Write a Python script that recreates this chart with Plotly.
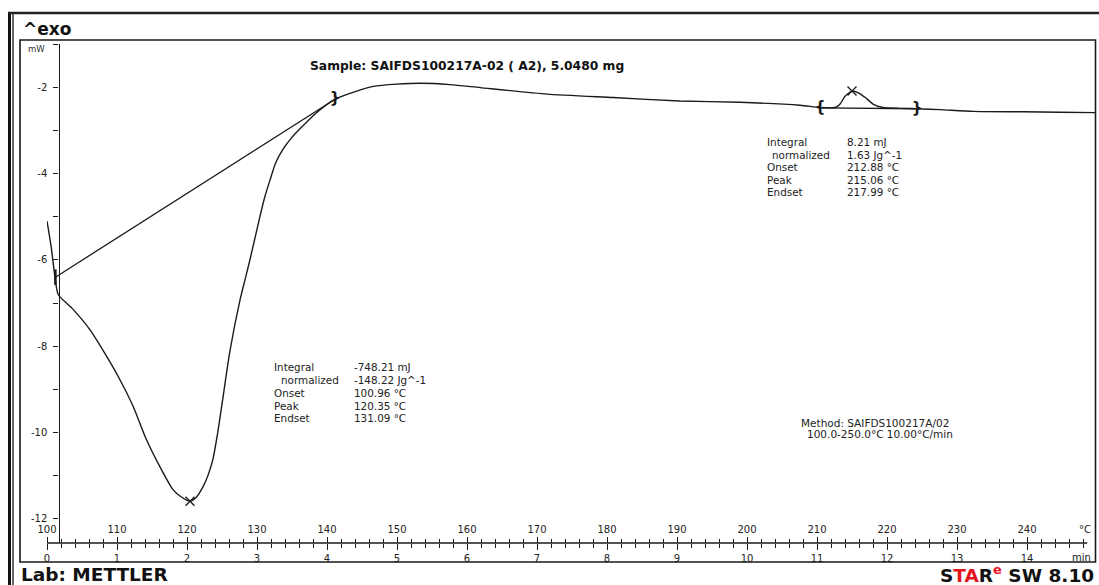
import plotly.graph_objects as go

# ---------------- data ----------------
temp_c = [100.0, 100.6, 101.1, 101.6, 103.7, 106.1, 108.5, 110.4, 112.3, 114.2,
          116.1, 118.0, 119.1, 120.4, 121.3, 122.3, 123.0, 123.7, 124.4, 125.1,
          126.1, 127.6, 128.3, 129.0, 130.4, 131.1, 131.9, 132.7, 133.7, 134.9,
          136.1, 138.5, 141.1, 143.7, 146.6, 150.0, 153.3, 157.6, 161.9, 171.4,
          180.9, 190.4, 199.0, 207.6, 210.4, 212.6, 213.3, 214.0, 215.0, 215.9,
          216.9, 218.0, 219.4, 221.9, 224.3, 227.6, 232.3, 239.4, 244.7, 249.7]
heat_flow_mw = [-5.10, -5.70, -6.35, -6.80, -7.14, -7.61, -8.23, -8.77, -9.39, -10.16,
                -10.78, -11.32, -11.48, -11.59, -11.50, -11.25, -10.99, -10.62, -9.99, -9.23,
                -8.14, -6.91, -6.45, -5.99, -5.01, -4.55, -4.13, -3.74, -3.44, -3.18,
                -2.97, -2.59, -2.28, -2.12, -1.98, -1.93, -1.91, -1.94, -2.01, -2.16,
                -2.24, -2.32, -2.35, -2.42, -2.47, -2.47, -2.39, -2.21, -2.09, -2.13,
                -2.24, -2.39, -2.47, -2.49, -2.50, -2.52, -2.56, -2.57, -2.58, -2.59]

base1_t = [101.2, 141.14]
base1_v = [-6.40, -2.28]
base2_t = [210.43, 224.29]
base2_v = [-2.48, -2.50]
peak_t = [120.43, 215.0]
peak_v = [-11.59, -2.09]
limit_t = [141.14, 210.43, 224.29]
limit_v = [-2.28, -2.48, -2.50]
limit_txt = ["}", "{", "}"]

temp_ticks = [100, 110, 120, 130, 140, 150, 160, 170, 180, 190, 200, 210, 220, 230, 240]
temp_minor = [t for t in range(102, 250, 2) if t % 10]
time_ticks = [0, 1, 2, 3, 4, 5, 6, 7, 8, 9, 10, 11, 12, 13, 14]
time_minor = [round(i * 0.2, 1) for i in range(1, 75) if i % 5]
mw_ticks = [-12, -10, -8, -6, -4, -2]
mw_minor = [-11, -9, -7, -5, -3, -1]

table_labels = ["Integral", "normalized", "Onset", "Peak", "Endset"]
table1_values = ["-748.21 mJ", "-148.22 Jg^-1", "100.96 °C", "120.35 °C", "131.09 °C"]
table2_values = ["8.21 mJ", "1.63 Jg^-1", "212.88 °C", "215.06 °C", "217.99 °C"]

# ---------------- layout helpers ----------------
W, H = 1099, 585
ML, MR, MT, MB = 47, 2, 44, 23


def px(x):
    return (x - ML) / (W - ML - MR)


def py(y):
    return (H - MB - y) / (H - MT - MB)


INK = "#1a1a1a"
FONT = "DejaVu Sans"
AX_Y = py(543)

fig = go.Figure()
fig.add_trace(go.Scatter(x=temp_c, y=heat_flow_mw, mode="lines",
                         line=dict(color=INK, width=1.4, shape="spline", smoothing=0.6),
                         hoverinfo="skip", showlegend=False))
fig.add_trace(go.Scatter(x=base1_t, y=base1_v, mode="lines",
                         line=dict(color=INK, width=1.3), showlegend=False, hoverinfo="skip"))
fig.add_trace(go.Scatter(x=base2_t, y=base2_v, mode="lines",
                         line=dict(color=INK, width=1.3), showlegend=False, hoverinfo="skip"))
fig.add_trace(go.Scatter(x=peak_t, y=peak_v, mode="markers",
                         marker=dict(symbol="x-thin-open", size=9, color=INK,
                                     line=dict(color=INK, width=1.3)),
                         showlegend=False, hoverinfo="skip"))
fig.add_trace(go.Scatter(x=limit_t, y=limit_v, mode="text", text=limit_txt,
                         textfont=dict(family=FONT, size=15, color=INK, weight="bold"),
                         showlegend=False, hoverinfo="skip"))
fig.add_trace(go.Scatter(x=base1_t[:1], y=base1_v[:1], mode="markers",
                         marker=dict(symbol="line-ns-open", size=11, color=INK,
                                     line=dict(color=INK, width=2.5)),
                         showlegend=False, hoverinfo="skip"))
# time axis host (empty)
fig.add_trace(go.Scatter(x=[], y=[], xaxis="x2", yaxis="y", showlegend=False, hoverinfo="skip"))

tickfont = dict(family=FONT, size=10, color="#222")

fig.update_layout(
    width=W, height=H,
    margin=dict(l=ML, r=MR, t=MT, b=MB),
    paper_bgcolor="white", plot_bgcolor="white",
    showlegend=False,
    xaxis=dict(range=[100, 250], domain=[0, 1], anchor="free", position=AX_Y, side="top",
               showline=False, showgrid=False, zeroline=False,
               ticks="outside", ticklen=6, tickwidth=1.2, tickcolor=INK,
               tickmode="array", tickvals=temp_ticks, ticktext=[str(t) for t in temp_ticks],
               tickfont=tickfont,
               minor=dict(tickmode="array", tickvals=temp_minor, ticks="outside",
                          ticklen=4, tickwidth=1.1, tickcolor=INK, showgrid=False)),
    xaxis2=dict(range=[0, 15], overlaying="x", anchor="free", position=AX_Y, side="bottom",
                showline=False, showgrid=False, zeroline=False,
                ticks="outside", ticklen=6, tickwidth=1.2, tickcolor=INK,
                tickmode="array", tickvals=time_ticks, ticktext=[str(t) for t in time_ticks],
                tickfont=tickfont,
                minor=dict(tickmode="array", tickvals=time_minor, ticks="outside",
                           ticklen=4, tickwidth=1.1, tickcolor=INK, showgrid=False)),
    yaxis=dict(range=[-12.556, -1], domain=[AX_Y, 1], anchor="free", position=px(58.5), side="left",
               showline=True, linecolor=INK, linewidth=1.3, showgrid=False, zeroline=False,
               ticks="outside", ticklen=5, tickwidth=1.2, tickcolor=INK,
               tickmode="array", tickvals=mw_ticks, ticktext=[str(t) for t in mw_ticks],
               tickfont=tickfont, ticklabelstandoff=4,
               minor=dict(tickmode="array", tickvals=mw_minor, ticks="outside",
                          ticklen=5, tickwidth=1.2, tickcolor=INK, showgrid=False)),
)

shapes = [
    # x axis line
    dict(type="line", xref="x", yref="paper", x0=100, x1=248.6, y0=AX_Y, y1=AX_Y,
         line=dict(color=INK, width=1.4)),
    # inner box
    dict(type="rect", xref="paper", yref="paper", x0=px(20), x1=px(1095.5), y0=py(562), y1=py(40),
         line=dict(color=INK, width=1.6)),
    # outer frame
    dict(type="line", xref="paper", yref="paper", x0=px(9.5), x1=px(9.5), y0=py(12), y1=py(585),
         line=dict(color="#111", width=3)),
    dict(type="line", xref="paper", yref="paper", x0=px(13), x1=px(13), y0=py(12), y1=py(585),
         line=dict(color="#333", width=1.5)),
    dict(type="line", xref="paper", yref="paper", x0=px(8), x1=px(1099), y0=py(13), y1=py(13),
         line=dict(color="#222", width=2.5)),
]
fig.update_layout(shapes=shapes)

ann = []


def text(x, y, s, size=10.5, bold=False, anchor="left", color="#222"):
    ann.append(dict(xref="paper", yref="paper", x=px(x), y=py(y), text=s, showarrow=False,
                    xanchor=anchor, yanchor="middle",
                    font=dict(family=FONT, size=size, color=color,
                              weight="bold" if bold else "normal")))


text(21, 29, "^exo", size=17, bold=True, color="#111")
text(36, 49, "mW", size=8.5, anchor="center", color="#333")
text(467, 66, "Sample: SAIFDS100217A-02 ( A2), 5.0480 mg", size=12.3, bold=True, anchor="center", color="#111")

rows1 = [367, 380, 393, 405.5, 418]
for i, (lab, val) in enumerate(zip(table_labels, table1_values)):
    text(279 if i == 1 else 271.5, rows1[i], lab, size=10.4)
    text(351.5, rows1[i], val, size=10.4)

rows2 = [142, 154.5, 167, 179.5, 191.5]
for i, (lab, val) in enumerate(zip(table_labels, table2_values)):
    text(770 if i == 1 else 765, rows2[i], lab, size=10.4)
    text(845, rows2[i], val, size=10.4)

text(799, 422.5, "Method: SAIFDS100217A/02", size=10.5)
text(805, 433.5, "100.0-250.0°C 10.00°C/min", size=10.5)

text(1085, 529.5, "°C", size=10, anchor="center")
text(1081, 557.5, "min", size=10, anchor="center")

text(19, 574, "Lab: METTLER", size=18.5, bold=True, color="#111")
text(1096, 574,
     "S<span style='color:#e3141c'>TA</span>R<sup><span style='color:#e3141c'>e</span></sup> SW 8.10",
     size=18.5, bold=True, anchor="right", color="#111")

fig.update_layout(annotations=ann)

fig.write_html("out.html")
